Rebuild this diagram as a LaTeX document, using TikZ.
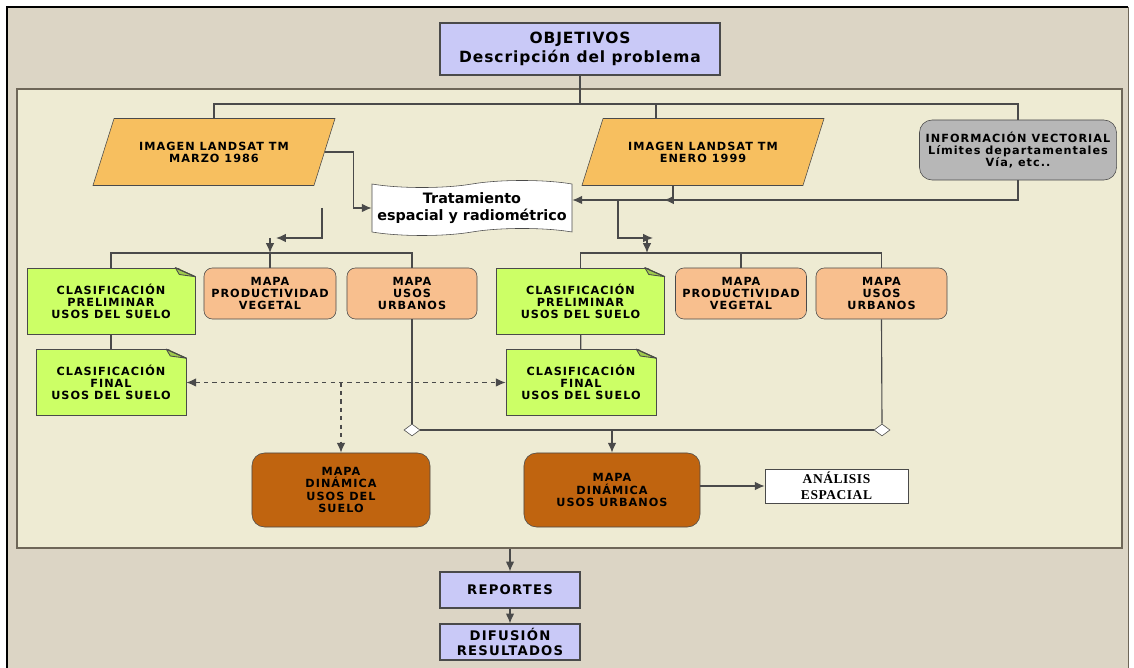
\documentclass[tikz,border=0pt]{standalone}
\usepackage{fontspec}
\usepackage{xcolor}
\usetikzlibrary{shapes.geometric,shapes.symbols,arrows.meta}
\newfontfamily\boxfont[LetterSpace=9]{DejaVu Sans}
\newfontfamily\bigfont[LetterSpace=6]{DejaVu Sans}
\newfontfamily\trafont{DejaVu Sans}
\newfontfamily\anafont[LetterSpace=4]{Liberation Serif}
\definecolor{pagebeige}{HTML}{DCD5C5}
\definecolor{panelcream}{HTML}{EEEBD3}
\definecolor{panelline}{HTML}{6E6658}
\definecolor{lavender}{HTML}{C9C9F7}
\definecolor{imgorange}{HTML}{F7BF5F}
\definecolor{vecgray}{HTML}{B7B7B7}
\definecolor{notegreen}{HTML}{CCFF66}
\definecolor{notefold}{HTML}{9FCB4C}
\definecolor{salmon}{HTML}{F8BF8E}
\definecolor{rust}{HTML}{C0640F}
\definecolor{boxline}{HTML}{4A4A4A}

\begin{document}
\begin{tikzpicture}[x=0.025cm, y=-0.025cm,
  conn/.style={draw=boxline, line width=0.8pt},
  arr/.style={conn, -{Latex[length=7pt,width=6pt]}},
  lbl/.style={font=\boxfont\bfseries\fontsize{8}{8.6}\selectfont, align=center, text=black, inner sep=1pt},
  bluebox/.style={lbl, draw=boxline, fill=lavender, line width=0.8pt},
  imgbox/.style={lbl, trapezium, trapezium left angle=48, trapezium right angle=132, trapezium stretches body, draw=boxline, fill=imgorange, minimum width=6.05cm, minimum height=1.675cm},
  notebox/.style={lbl, draw=boxline, fill=notegreen, minimum height=1.65cm},
  mapbox/.style={lbl, rounded corners=6pt, draw=boxline, fill=salmon, minimum width=3.3cm, minimum height=1.275cm},
  dynbox/.style={lbl, rounded corners=9pt, draw=boxline, fill=rust, minimum height=1.85cm},
  dmd/.style={diamond, draw=boxline, fill=white, minimum width=0.4cm, minimum height=0.3cm, inner sep=0pt}]

\useasboundingbox (0,0) rectangle (1134,668);
\fill[pagebeige] (7,7) rectangle (1128,668);
\draw[black, line width=1.5pt] (7,668) -- (7,7) -- (1128,7);
\draw[panelline] (1128,7) -- (1128,668);

\node[draw=panelline, line width=1pt, fill=panelcream, minimum width=27.625cm, minimum height=11.475cm] (panel) at (569.5,318.5) {};

\node[bluebox, font=\bigfont\bfseries\fontsize{11}{13.5}\selectfont, minimum width=7cm, minimum height=1.3cm] (obj) at (580,49) {OBJETIVOS\\Descripción del problema};

\node[imgbox] (img1) at (214,152) {IMAGEN LANDSAT TM\\MARZO 1986};
\node[imgbox] (img2) at (703,152) {IMAGEN LANDSAT TM\\ENERO 1999};
\node[lbl, rounded corners=9pt, draw=boxline, fill=vecgray, minimum width=4.925cm, minimum height=1.5cm] (vec) at (1018,150) {INFORMACIÓN VECTORIAL\\Límites departamentales\\Vía, etc..};

\node[tape, draw=boxline, fill=white, align=center, font=\trafont\bfseries\fontsize{10.2}{11.8}\selectfont, minimum width=5cm, minimum height=1.375cm, inner sep=1pt] (trat) at (472,208) {Tratamiento\\espacial y radiométrico};

\node[notebox, minimum width=4.2cm] (g1) at (111,301) {CLASIFICACIÓN\\PRELIMINAR\\USOS DEL SUELO};
\node[mapbox] (p1) at (270,293.5) {MAPA\\PRODUCTIVIDAD\\VEGETAL};
\node[mapbox, minimum width=3.25cm] (u1) at (412,293.5) {MAPA\\USOS\\URBANOS};
\node[notebox, minimum width=4.2cm] (g2) at (580.5,301) {CLASIFICACIÓN\\PRELIMINAR\\USOS DEL SUELO};
\node[mapbox, minimum width=3.275cm] (p2) at (741,293.5) {MAPA\\PRODUCTIVIDAD\\VEGETAL};
\node[mapbox, minimum width=3.275cm] (u2) at (881.5,293.5) {MAPA\\USOS\\URBANOS};

\node[notebox, minimum width=3.75cm] (gf1) at (111,382.5) {CLASIFICACIÓN\\FINAL\\USOS DEL SUELO};
\node[notebox, minimum width=3.75cm] (gf2) at (581,382.5) {CLASIFICACIÓN\\FINAL\\USOS DEL SUELO};

\foreach \n in {g1,g2,gf1,gf2} {
  \coordinate (\n-ne) at (\n.north -| \n.east);
  \fill[panelcream] ([xshift=-0.5cm, yshift=0.8pt]\n-ne) -- ([xshift=0.8pt, yshift=0.8pt]\n-ne) -- ([xshift=0.8pt, yshift=-0.225cm]\n-ne) -- cycle;
  \filldraw[draw=boxline, fill=notefold, line width=0.6pt, line join=round] ([xshift=-0.5cm]\n-ne) -- ([yshift=-0.225cm]\n-ne) -- ([xshift=-0.4cm, yshift=-0.17cm]\n-ne) -- cycle;
  \draw[boxline, line width=0.8pt] ([xshift=-0.5cm]\n-ne) -- ([yshift=-0.225cm]\n-ne);
}

\node[dmd] (d1) at (412,430) {};
\node[dmd] (d2) at (882,430) {};

\node[dynbox, minimum width=4.45cm] (dyn1) at (341,490) {MAPA\\DINÁMICA\\USOS DEL\\SUELO};
\node[dynbox, minimum width=4.4cm] (dyn2) at (612,490) {MAPA\\DINÁMICA\\USOS URBANOS};
\node[draw=boxline, fill=white, align=center, font=\anafont\bfseries\fontsize{9.6}{11}\selectfont, minimum width=3.575cm, minimum height=0.85cm, inner sep=1pt] (ana) at (836.5,486) {ANÁLISIS\\ESPACIAL};

\node[bluebox, font=\boxfont\bfseries\fontsize{9.4}{11}\selectfont, minimum width=3.5cm, minimum height=0.9cm] (rep) at (510,590) {REPORTES};
\node[bluebox, font=\boxfont\bfseries\fontsize{9.4}{11}\selectfont, minimum width=3.5cm, minimum height=0.9cm] (dif) at (510,642) {DIFUSIÓN\\RESULTADOS};

\coordinate (tb) at (580,104);
\coordinate (img2in) at ([xshift=-1.175cm]img2.north);
\draw[conn] (obj.south) -- (tb);
\draw[conn] (img1.north) |- (tb) -| (vec.north);
\draw[conn] (tb -| img2in) -- (img2in);

\coordinate (br1) at (322,208);
\coordinate (k1) at (270,238);
\coordinate (bus1) at (270,253);
\draw[arr] (img1.east) -| ([xshift=-0.45cm]trat.west) -- (trat.west);
\draw[arr] (br1) |- ([xshift=0.15cm]k1);
\draw[arr] (k1) -- (bus1);
\draw[conn] (g1.north) |- (bus1) -| (u1.north);
\draw[conn] (bus1) -- (p1.north);

\coordinate (j2) at (664,200);
\coordinate (br2) at (618,200);
\coordinate (k2) at (647,238);
\coordinate (bus2) at (647,253);
\draw[arr] (vec.south) |- ([yshift=0.2cm]trat.east);
\draw[arr] ([xshift=-0.75cm]img2.south) |- (j2);
\draw[arr] (br2) |- ([xshift=0.15cm]k2);
\draw[arr] (k2) -- (bus2);
\draw[conn] (g2.north) |- (bus2) -| (u2.north);
\draw[conn] (p2.north) -- (p2.north |- bus2);

\draw[conn] (g1) -- (gf1);
\draw[conn] (g2) -- (gf2);
\draw[conn, dashed, {Latex[length=7pt,width=6pt]}-{Latex[length=7pt,width=6pt]}] (gf1.east) -- (gf2.west);
\draw[arr, dashed] (gf1.east -| dyn1.north) -- (dyn1.north);

\draw[conn] (u1.south) -- (d1.north);
\draw[conn] (u2.south) -- (d2.north);
\draw[conn] (d1.east) -- (d2.west);
\draw[arr] (d1 -| dyn2.north) -- (dyn2.north);
\draw[arr] (ana.west -| dyn2.east) -- (ana.west);

\draw[arr] (panel.south -| rep.north) -- (rep.north);
\draw[arr] (rep) -- (dif);
\end{tikzpicture}
\end{document}
